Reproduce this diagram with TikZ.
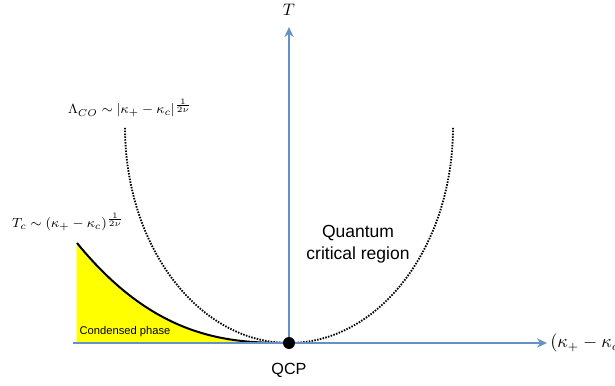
\documentclass[tikz,border=0pt]{standalone}
\usepackage{amsmath}
\usepackage{amssymb}
\usepackage{fontspec}
\setsansfont{Liberation Sans}
\usepackage{xcolor}
\usetikzlibrary{arrows.meta}
\definecolor{axisblue}{RGB}{98,146,200}
\definecolor{phaseyellow}{RGB}{255,255,0}

\begin{document}
\begin{tikzpicture}[x=0.6pt,y=0.6pt,
		axis/.style={axisblue, line width=1.3pt, -{Stealth[length=6pt,width=5.5pt]}},
		crossover/.style={black, line width=1.1pt, dash pattern=on 0.9pt off 0.8pt},
		mathlabel/.style={font=\fontsize{8.3}{10}\selectfont, inner sep=0pt},
		textlabel/.style={font=\sffamily\fontsize{10.5}{13.2}\selectfont, align=center, inner sep=0pt}]
				\useasboundingbox (0,0) rectangle (615,386);
				
				% Points on the axes
				\coordinate (qcp) at (289,43);
				\coordinate (xmin) at (73,43);
				\coordinate (xmax) at (547,43);
				\coordinate (tmax) at (289,359);
				\coordinate (tcstart) at (77,143);
				
				% Condensed phase
				\fill[phaseyellow] (77,43) -- (tcstart)
					-- plot[domain=1:0.02, samples=50] ({289-212*\x},{43+100*\x^2.6}) -- (qcp) -- cycle;
				\draw[line width=1.2pt] (tcstart)
					-- plot[domain=1:0.02, samples=50] ({289-212*\x},{43+100*\x^2.6}) -- (qcp);
				\node[font=\sffamily\fontsize{6.7}{8}\selectfont, inner sep=0pt] (condensed) at (125,54) {Condensed phase};
				
				% Crossover lines
				\draw[crossover] (qcp) arc[start angle=270, end angle=180, x radius=164, y radius=216];
				\draw[crossover] (qcp) arc[start angle=270, end angle=360, x radius=164, y radius=216];
				
				% Axes
				\draw[axis] (xmin) -- (xmax);
				\draw[axis] (qcp) -- (tmax);
				\node[mathlabel, font=\fontsize{10.7}{12}\selectfont, anchor=west] (xlabel) at (550,43) {$(\kappa_+ - \kappa_c)$};
				\node[mathlabel, font=\fontsize{10}{12}\selectfont] (tlabel) at (289,376) {$T$};
				
				% Quantum critical point
				\fill (qcp) circle (6);
				\node[textlabel, font=\sffamily\fontsize{9.7}{12}\selectfont] (qcplabel) at (289,16) {QCP};
				
				% Labels
				\node[textlabel] (critical) at (358,142) {Quantum\\critical region};
				\node[mathlabel] (tclabel) at (68,164) {$T_c \sim (\kappa_+ - \kappa_c)^{\frac{1}{2\nu}}$};
				\node[mathlabel] (lambdalabel) at (130,278) {$\Lambda_{CO} \sim |\kappa_+ - \kappa_c|^{\frac{1}{2\nu}}$};
			\end{tikzpicture}
\end{document}
